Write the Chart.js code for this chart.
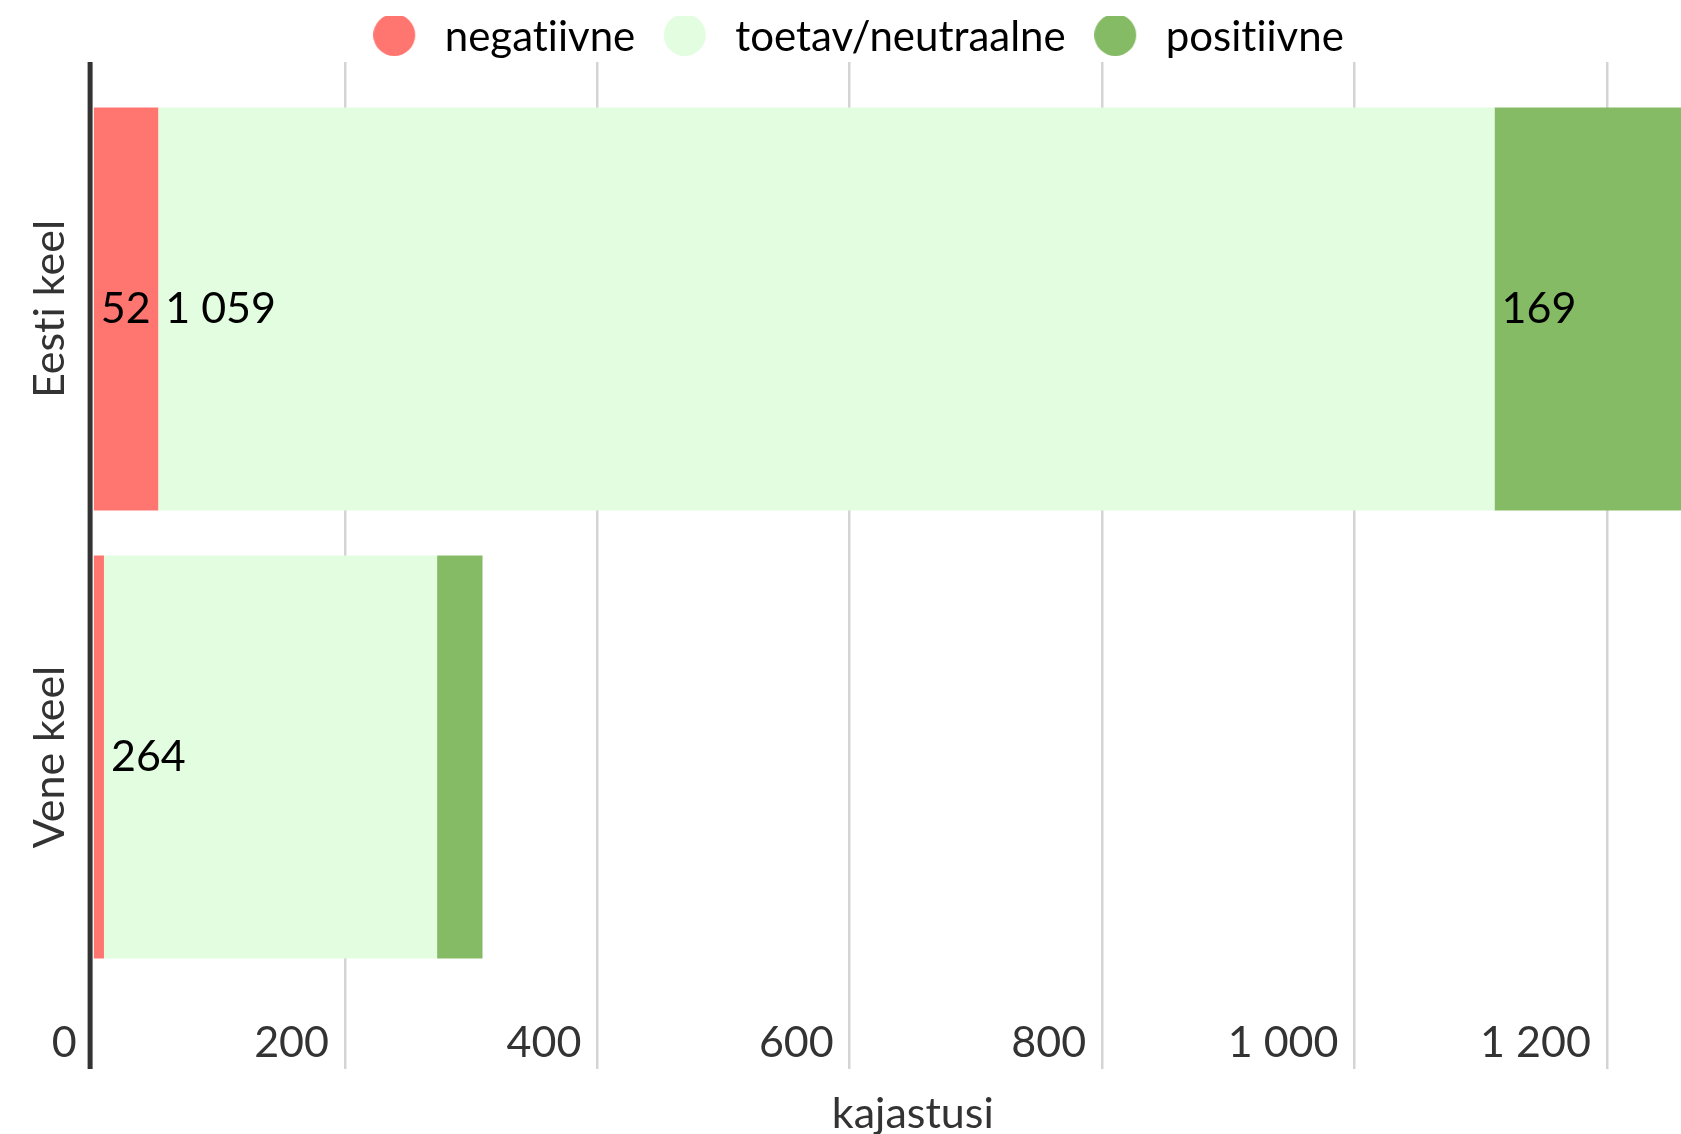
<!DOCTYPE html>
<html>
<head>
<meta charset="utf-8">
<script src="https://cdn.jsdelivr.net/npm/chart.js@4.4.1/dist/chart.umd.min.js"></script>
<style>
  html, body { margin: 0; padding: 0; background: #ffffff; width: 1681px; height: 1134px; overflow: hidden; }
  #wrap { position: relative; width: 1733px; height: 1134px; }
  canvas { display: block; }
</style>
</head>
<body>
<div id="wrap"><canvas id="c" width="1733" height="1134"></canvas></div>
<script>
// ---- data ----
const categories = ['Eesti keel', 'Vene keel'];
const seriesNames = ['negatiivne', 'toetav/neutraalne', 'positiivne'];
const negatiivne = [52, 9];
const toetav = [1059, 264];
const positiivne = [169, 36];
const xTicks = [0, 200, 400, 600, 800, 1000, 1200];
const axisTitle = 'kajastusi';

// ---- style ----
const colors = ['#ff756f', '#e2fde0', '#86bb66'];
const FONT = 'Lato';
const TEXT = '#333333';
const series = [negatiivne, toetav, positiivne];

const fmt = v => String(v).replace(/\B(?=(\d{3})+(?!\d))/g, ' ');

Chart.defaults.font.family = FONT;
Chart.defaults.color = TEXT;

const LEG_FONT = 42;
const legendPadding = 37;
const legendShift = -3;

function dot(color) {
  const c = document.createElement('canvas');
  c.width = 59; c.height = 42;
  const g = c.getContext('2d');
  g.fillStyle = color;
  g.beginPath();
  g.arc(21, 19, 21, 0, Math.PI * 2);
  g.fill();
  return c;
}
const dots = colors.map(dot);

const layoutFix = {
  id: 'layoutFix',
  beforeLayout(chart) {
    const lg = chart.legend;
    if (lg && !lg._patched) {
      const orig = lg.fit.bind(lg);
      lg.fit = function () { orig(); this.height = 62; };
      lg._patched = true;
    }
  },
  afterLayout(chart) {
    const lg = chart.legend;
    if (lg) {
      lg.top = 16 - legendPadding;
      lg.left += legendShift;
      lg.right += legendShift;
    }
  },
  beforeDraw(chart) {
    try { chart.ctx.textRendering = 'optimizeSpeed'; } catch (e) {}
  }
};

const axisLine = {
  id: 'axisLine',
  beforeDatasetsDraw(chart) {
    const {ctx, chartArea, scales} = chart;
    const x0 = scales.x.getPixelForValue(0);
    ctx.save();
    ctx.fillStyle = TEXT;
    ctx.fillRect(x0 - 5, chartArea.top, 5, chartArea.bottom - chartArea.top);
    ctx.restore();
  }
};

const categoryLabels = {
  id: 'categoryLabels',
  afterDraw(chart) {
    const {ctx, scales} = chart;
    ctx.save();
    ctx.font = '43px ' + FONT;
    ctx.fillStyle = TEXT;
    ctx.textAlign = 'center';
    ctx.textBaseline = 'alphabetic';
    categories.forEach((name, i) => {
      const y = scales.y.getPixelForValue(i);
      ctx.save();
      ctx.translate(64, y);
      ctx.rotate(-Math.PI / 2);
      ctx.fillText(name, 0, 0);
      ctx.restore();
    });
    ctx.restore();
  }
};

const valueLabels = {
  id: 'valueLabels',
  afterDatasetsDraw(chart) {
    const {ctx} = chart;
    ctx.save();
    ctx.font = '43px ' + FONT;
    ctx.fillStyle = '#000000';
    ctx.textAlign = 'left';
    ctx.textBaseline = 'middle';
    chart.data.datasets.forEach((ds, k) => {
      const meta = chart.getDatasetMeta(k);
      meta.data.forEach((bar, i) => {
        const txt = fmt(ds.data[i].x);
        const w = ctx.measureText(txt).width;
        const left = Math.min(bar.x, bar.base), right = Math.max(bar.x, bar.base);
        if (right - left < w + 10) return;
        ctx.fillText(txt, left + 7, bar.y);
      });
    });
    ctx.restore();
  }
};

new Chart(document.getElementById('c'), {
  type: 'bar',
  data: {
    datasets: seriesNames.map((name, k) => ({
      label: name,
      data: series[k].map((v, i) => ({ x: v, y: i })),
      backgroundColor: colors[k],
      borderWidth: 0,
      barPercentage: 0.9,
      categoryPercentage: 1.0
    }))
  },
  options: {
    indexAxis: 'y',
    responsive: false,
    animation: false,
    devicePixelRatio: 1,
    layout: { padding: 0 },
    plugins: {
      tooltip: { enabled: false },
      legend: {
        position: 'top',
        align: 'center',
        labels: {
          usePointStyle: true,
          boxWidth: LEG_FONT,
          boxHeight: LEG_FONT,
          padding: legendPadding,
          color: TEXT,
          font: { size: LEG_FONT, family: FONT },
          generateLabels: (chart) => chart.data.datasets.map((ds, k) => ({
            text: ds.label,
            fillStyle: colors[k],
            strokeStyle: colors[k],
            lineWidth: 0,
            pointStyle: dots[k],
            hidden: false,
            datasetIndex: k
          }))
        }
      }
    },
    scales: {
      x: {
        type: 'linear',
        position: 'bottom',
        stacked: true,
        min: 0,
        max: 1300,
        afterBuildTicks: s => { s.ticks = xTicks.map(v => ({ value: v })); },
        afterFit: s => { s.height = 65; },
        grid: {
          color: c => (c.tick && c.tick.value === 0) ? 'rgba(0,0,0,0)' : '#d4d4d4',
          lineWidth: 2.5,
          drawTicks: false
        },
        border: { display: false },
        ticks: {
          mirror: true,
          align: 'end',
          labelOffset: -16,
          padding: 0,
          color: TEXT,
          font: { size: 43 },
          callback: v => fmt(v)
        },
        title: {
          display: true,
          text: axisTitle,
          color: TEXT,
          font: { size: 43 },
          padding: { top: 0, bottom: -6 }
        }
      },
      y: {
        type: 'linear',
        stacked: true,
        reverse: true,
        offset: false,
        bounds: 'data',
        min: -0.5513,
        max: 1.6965,
        afterBuildTicks: s => { s.ticks = categories.map((c, i) => ({ value: i })); },
        ticks: { display: false },
        grid: { display: false, offset: false },
        border: { display: false },
        afterFit: s => { s.width = 92.6; }
      }
    }
  },
  plugins: [layoutFix, axisLine, categoryLabels, valueLabels]
});
</script>
</body>
</html>
